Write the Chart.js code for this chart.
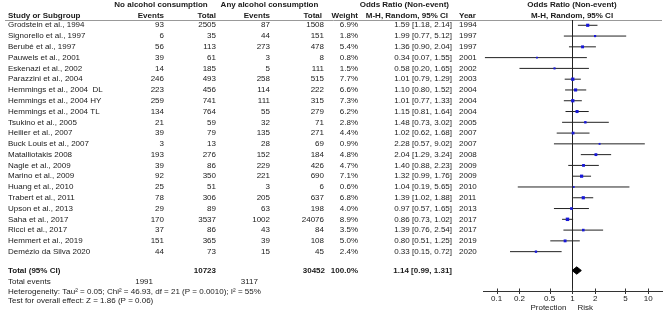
<!DOCTYPE html>
<html>
<head>
<meta charset="utf-8">
<script src="https://cdn.jsdelivr.net/npm/chart.js@4.4.0/dist/chart.umd.min.js"></script>
<style>
  body { margin: 0; background: #fff; }
  canvas { display: block; }
</style>
</head>
<body>
<canvas id="forest" width="669" height="312"></canvas>
<script>
const studies = ['Grodstein et al., 1994', 'Signorello et al., 1997', 'Berubé et al., 1997', 'Pauwels et al., 2001',
    'Eskenazi et al., 2002', 'Parazzini et al., 2004', 'Hemmings et al., 2004  DL', 'Hemmings et al., 2004 HY',
    'Hemmings et al., 2004 TL', 'Tsukino et al., 2005', 'Heilier et al., 2007', 'Buck Louis et al., 2007',
    'Matalliotakis 2008', 'Nagle et al., 2009', 'Marino et al., 2009', 'Huang et al., 2010', 'Trabert et al., 2011',
    'Upson et al., 2013', 'Saha et al., 2017', 'Ricci et al., 2017', 'Hemmert et al., 2019', 'Demézio da Silva 2020']
const noEvents = [93, 6, 56, 39, 14, 246, 223, 259, 134, 21, 39, 3, 193, 39, 92, 25, 78, 29, 170, 37, 151, 44]
const noTotal = [2505, 35, 113, 61, 185, 493, 456, 741, 764, 59, 79, 13, 276, 86, 350, 51, 306, 89, 3537, 86, 365, 73]
const anyEvents = [87, 44, 273, 3, 5, 258, 114, 111, 55, 32, 135, 28, 152, 229, 221, 3, 205, 63, 1002, 43, 39, 15]
const anyTotal = [1508, 151, 478, 8, 111, 515, 222, 315, 279, 71, 271, 69, 184, 426, 690, 6, 637, 198, 24076, 84, 108, 45]
const weights = [6.9, 1.8, 5.4, 0.8, 1.5, 7.7, 6.6, 7.3, 6.2, 2.8, 4.4, 0.9, 4.8, 4.7, 7.1, 0.6, 6.8, 4.0, 8.9, 3.5, 5.0, 2.4]
const oddsRatio = [1.59, 1.99, 1.36, 0.34, 0.58, 1.01, 1.10, 1.01, 1.15, 1.48, 1.02, 2.28, 2.04, 1.40, 1.32, 1.04, 1.39, 0.97, 0.86, 1.39, 0.80, 0.33]
const ciLow = [1.18, 0.77, 0.90, 0.07, 0.20, 0.79, 0.80, 0.77, 0.81, 0.73, 0.62, 0.57, 1.29, 0.88, 0.99, 0.19, 1.02, 0.57, 0.73, 0.76, 0.51, 0.15]
const ciHigh = [2.14, 5.12, 2.04, 1.55, 1.65, 1.29, 1.52, 1.33, 1.64, 3.02, 1.68, 9.02, 3.24, 2.23, 1.76, 5.65, 1.88, 1.65, 1.02, 2.54, 1.25, 0.72]
const years = [1994, 1997, 1997, 2001, 2002, 2003, 2004, 2004, 2004, 2005, 2007, 2007, 2008, 2009, 2009, 2010, 2011, 2013, 2017, 2017, 2019, 2020]

// pooled result
const totalNo = 10723
const totalAny = 30452
const eventsNo = 1991
const eventsAny = 3117
const pooled = [0.99, 1.14, 1.31] // low, estimate, high
const heterogeneity = 'Heterogeneity: Tau² = 0.05; Chi² = 46.93, df = 21 (P = 0.0010); I² = 55%'
const overallTest = 'Test for overall effect: Z = 1.86 (P = 0.06)'

const xTicks = [0.1, 0.2, 0.5, 1, 2, 5, 10]

const FONT = '"Liberation Sans", Arial, sans-serif'
const TEXT = '#1a1a1a'
const totalRow = 22.75

const fmtCI = (o, l, h) => o.toFixed(2) + ' [' + l.toFixed(2) + ', ' + h.toFixed(2) + ']'

// CI whiskers, one small dataset each
const ciSets = studies.map((s, i) => ({
    type: 'line',
    data: [{ x: ciLow[i], y: i }, { x: ciHigh[i], y: i }],
    borderColor: '#222',
    borderWidth: 1,
    pointRadius: 0,
    order: 2
}))

const tablePlugin = {
    id: 'table',
    beforeDatasetsDraw(chart) {
        const { ctx, chartArea, scales } = chart
        const x1 = Math.round(scales.x.getPixelForValue(1)) + 0.5
        ctx.save()
        // header rule
        const ry = Math.round(scales.y.getPixelForValue(-0.52)) + 0.5
        ctx.strokeStyle = '#999'
        ctx.lineWidth = 1
        ctx.beginPath()
        ctx.moveTo(5, ry)
        ctx.lineTo(chartArea.right, ry)
        ctx.stroke()
        // line of no effect
        ctx.strokeStyle = '#222'
        ctx.beginPath()
        ctx.moveTo(x1, chartArea.top)
        ctx.lineTo(x1, chartArea.bottom)
        ctx.stroke()
        ctx.restore()
    },
    afterDraw(chart) {
        const { ctx, chartArea, scales } = chart
        const ys = scales.y
        const xs = scales.x
        const text = (t, x, row, align, bold) => {
            ctx.font = (bold ? 'bold ' : '') + '8px ' + FONT
            ctx.textAlign = align || 'left'
            ctx.fillText(t, x, ys.getPixelForValue(row))
        }
        ctx.save()
        ctx.fillStyle = TEXT
        ctx.textBaseline = 'middle'

        // headers
        text('No alcohol consumption', 161, -1.88, 'center', true)
        text('Any alcohol consumption', 269.5, -1.88, 'center', true)
        text('Odds Ratio (Non-event)', 449, -1.88, 'right', true)
        text('Odds Ratio (Non-event)', 572, -1.88, 'center', true)
        text('Study or Subgroup', 8, -0.91, 'left', true)
        text('Events', 164, -0.91, 'right', true)
        text('Total', 216, -0.91, 'right', true)
        text('Events', 270, -0.91, 'right', true)
        text('Total', 322, -0.91, 'right', true)
        text('Weight', 358, -0.91, 'right', true)
        text('M-H, Random, 95% CI', 448, -0.91, 'right', true)
        text('Year', 459, -0.91, 'left', true)
        text('M-H, Random, 95% CI', 572, -0.91, 'center', true)

        // study rows
        studies.forEach((s, i) => {
            text(s, 8, i)
            text(String(noEvents[i]), 164, i, 'right')
            text(String(noTotal[i]), 216, i, 'right')
            text(String(anyEvents[i]), 270, i, 'right')
            text(String(anyTotal[i]), 324, i, 'right')
            text(weights[i].toFixed(1) + '%', 358, i, 'right')
            text(fmtCI(oddsRatio[i], ciLow[i], ciHigh[i]), 452, i, 'right')
            text(String(years[i]), 459, i, 'left')
        })

        // totals and footnotes
        text('Total (95% CI)', 8, totalRow, 'left', true)
        text(String(totalNo), 216, totalRow, 'right', true)
        text(String(totalAny), 325, totalRow, 'right', true)
        text('100.0%', 358, totalRow, 'right', true)
        text(fmtCI(pooled[1], pooled[0], pooled[2]), 452, totalRow, 'right', true)
        text('Total events', 8, 23.8)
        text(String(eventsNo), 153, 23.8, 'right')
        text(String(eventsAny), 258, 23.8, 'right')
        text(heterogeneity, 8, 24.76)
        text(overallTest, 8, 25.6)

        // crossing tick marks on the axis
        const by = chartArea.bottom
        ctx.strokeStyle = '#333'
        ctx.lineWidth = 1
        xTicks.forEach(v => {
            const px = Math.round(xs.getPixelForValue(v)) + 0.5
            ctx.beginPath()
            ctx.moveTo(px, by - 2.5)
            ctx.lineTo(px, by + 3)
            ctx.stroke()
        })
        const x1 = xs.getPixelForValue(1)
        ctx.font = '8px ' + FONT
        ctx.textAlign = 'right'
        ctx.fillText('Protection', x1 - 6, 308)
        ctx.textAlign = 'left'
        ctx.fillText('Risk', x1 + 5, 308)
        ctx.restore()
    }
}

new Chart(document.getElementById('forest'), {
    data: {
        datasets: [
            {
                type: 'scatter',
                data: studies.map((s, i) => ({ x: oddsRatio[i], y: i })),
                pointStyle: 'rect',
                pointRadius: c => 0.8 + Math.sqrt(weights[c.dataIndex]) * 0.55,
                backgroundColor: '#1818d8',
                borderWidth: 0,
                order: 0
            },
            {
                type: 'line',
                data: [
                    { x: pooled[0], y: totalRow },
                    { x: pooled[1], y: totalRow - 0.34 },
                    { x: pooled[2], y: totalRow },
                    { x: pooled[1], y: totalRow + 0.34 },
                    { x: pooled[0], y: totalRow }
                ],
                borderColor: '#000',
                backgroundColor: '#000',
                borderWidth: 1,
                fill: 'shape',
                pointRadius: 0,
                tension: 0,
                order: 1
            },
            ...ciSets
        ]
    },
    options: {
        responsive: false,
        animation: false,
        events: [],
        layout: { padding: { left: 483, right: 7, top: 20, bottom: 0 } },
        plugins: { legend: { display: false }, tooltip: { enabled: false } },
        scales: {
            x: {
                type: 'logarithmic',
                position: 'bottom',
                min: 0.066,
                max: 15.2,
                afterBuildTicks: s => { s.ticks = xTicks.map(v => ({ value: v })) },
                afterFit: s => { s.height = 21 },
                ticks: {
                    autoSkip: false,
                    maxRotation: 0,
                    padding: 3,
                    color: TEXT,
                    font: { size: 8, family: FONT },
                    callback: v => String(v)
                },
                grid: { display: true, drawOnChartArea: false, drawTicks: false },
                border: { display: true, color: '#333', width: 1 }
            },
            y: {
                type: 'linear',
                display: false,
                reverse: true,
                min: -0.49,
                max: 24.65
            }
        }
    },
    plugins: [tablePlugin]
})
</script>
</body>
</html>
